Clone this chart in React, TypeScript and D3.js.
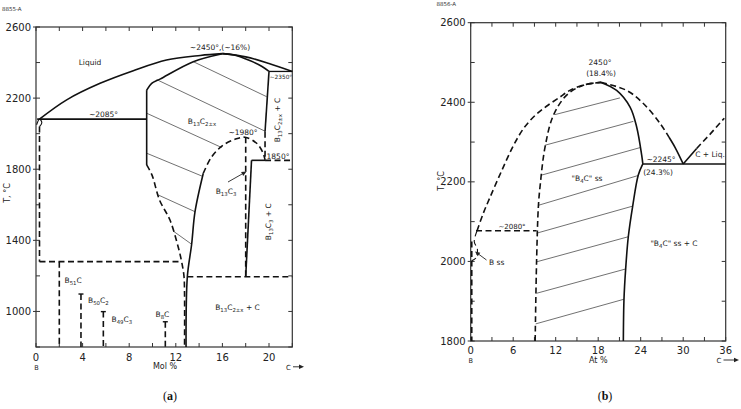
import React from "react";
import * as d3 from "d3";

type P = [number, number];

// ---------- Panel (a): B–C, Mol % ----------
const aXTicks = [0, 2, 4, 6, 8, 10, 12, 14, 16, 18, 20, 22];
const aXLabels = [0, 4, 8, 12, 16, 20];
const aYTicks = [800, 1000, 1200, 1400, 1600, 1800, 2000, 2200, 2400, 2600];
const aYLabels = [1000, 1400, 1800, 2200, 2600];

const aLiquidusLeft: P[] = [[0.3, 2082], [2.6, 2189], [5.5, 2283], [8.35, 2354], [11.2, 2414], [14.1, 2440], [16, 2450]];
const aLiquidusRight: P[] = [[16, 2450], [18, 2432], [20, 2395], [22, 2350]];
const aSolidusTop: P[] = [[9.5, 2245], [9.93, 2283], [10.64, 2307], [13.5, 2405], [16, 2450]];
const aSolidusRight: P[] = [[16, 2450], [17, 2443], [18.4, 2410], [19.4, 2378], [20, 2350]];
const aRightBoundarySolid: P[] = [[20, 2350], [19.66, 2011]];
const aRightBoundaryDashed: P[] = [[19.66, 2011], [19.66, 1850]];
const aLine2350: P[] = [[20, 2350], [22, 2350]];
const aLeftBoundarySolid: P[] = [[9.5, 2245], [9.5, 1824]];
const aLeftBoundaryDashed: P[] = [[9.5, 1824], [9.96, 1767], [10.6, 1627], [11.5, 1514], [12.2, 1364], [12.5, 1280], [12.7, 1200], [12.75, 1100], [12.75, 800]];
const aLine2085: P[] = [[0.1, 2082], [9.5, 2082]];
const aLowerSolid: P[] = [[14.36, 1777], [13.65, 1561], [13.36, 1378], [12.99, 1195], [12.88, 800]];
const aDome: P[] = [[14.36, 1777], [15.08, 1870], [16.08, 1936], [17.08, 1968], [17.94, 1980], [18.94, 1946], [19.5, 1890], [19.66, 1852]];
const aB13C3Dashed: P[] = [[18.0, 1980], [18.0, 1195]];
const aB13C3Solid: P[] = [[18.5, 1850], [18.0, 1195]];
const a1850Solid: P[] = [[18.5, 1850], [19.66, 1850]];
const a1850Dashed: P[] = [[19.66, 1850], [22, 1850]];
const a1200Dashed: P[] = [[12.99, 1195], [22, 1195]];
const a1280Dashed: P[] = [[0.3, 1280], [12.5, 1280]];
const aBLoop: P[] = [[0.05, 2050], [0.3, 2082], [0.5, 2062], [0.3, 2040]];
const aBDashed: P[] = [[0.3, 2040], [0.3, 1280]];
const aCompoundX = [2.0, 3.86, 5.78, 11.1];
const aCompoundTop = [1280, 1098, 999, 942];
const aCompoundCap = [false, true, true, true];
const aTies: P[][] = [
  [[13.5, 2405], [19.8, 2208]],
  [[10.36, 2304], [19.66, 2014]],
  [[9.5, 2115], [15.94, 1922]],
  [[9.5, 1890], [14.3, 1760]],
  [[10.5, 1655], [13.65, 1561]],
  [[11.78, 1452], [13.36, 1378]],
];

// ---------- Panel (b): B–C, At % ----------
const bXTicks = [0, 3, 6, 9, 12, 15, 18, 21, 24, 27, 30, 33, 36];
const bXLabels = [0, 6, 12, 18, 24, 30, 36];
const bYTicks = [1800, 1900, 2000, 2100, 2200, 2300, 2400, 2500, 2600];
const bYLabels = [1800, 2000, 2200, 2400, 2600];

const bLiquidusLeft: P[] = [[0.9, 2077], [1.8, 2122], [2.7, 2160], [4.3, 2225], [6, 2290], [7.5, 2335], [9.1, 2367], [10.7, 2390], [12.6, 2413], [14, 2430], [16.3, 2445], [18.4, 2450]];
const bSolidusLeft: P[] = [[9.1, 1800], [9.3, 2000], [9.55, 2137], [9.8, 2190], [10.5, 2288], [11.67, 2367], [13.55, 2418], [15.9, 2443], [18.4, 2450]];
const bSolidusRightUpper: P[] = [[18.4, 2450], [20.6, 2430], [22.5, 2388], [23.43, 2338], [24.14, 2267], [24.3, 2245]];
const bSolidusRightLower: P[] = [[24.3, 2245], [23.66, 2217], [22.87, 2139], [22.25, 2062], [21.88, 1982], [21.64, 1905], [21.55, 1800]];
const bLiquidusRightDashed: P[] = [[18.4, 2450], [22.0, 2430], [24.37, 2397], [26.73, 2347], [28.0, 2312]];
const bLiquidusRightSolid: P[] = [[28.0, 2312], [28.9, 2285], [30, 2245]];
const bCLiquidusSolid: P[] = [[30, 2245], [31.9, 2284]];
const bCLiquidusDashed: P[] = [[31.9, 2284], [33.8, 2320], [35.8, 2360]];
const b2245: P[] = [[24.3, 2245], [36, 2245]];
const b2080: P[] = [[0.75, 2077], [9.3, 2077]];
const bBDashed: P[] = [[0.15, 2050], [0.15, 1800]];
const bBss: P[] = [[0.9, 2077], [0.5, 2050], [0.95, 2030], [0.7, 2008], [0.2, 2002]];
const bTies: P[][] = [
  [[11.9, 2369], [21.07, 2411]],
  [[10.48, 2292], [22.96, 2352]],
  [[10.02, 2217], [23.9, 2286]],
  [[9.55, 2141], [23.66, 2216]],
  [[9.31, 2071], [22.87, 2139]],
  [[9.31, 1999], [22.24, 2062]],
  [[9.31, 1920], [21.87, 1981]],
  [[9.17, 1843], [21.64, 1905]],
];

const FONT = "DejaVu Sans, Verdana, sans-serif";
const INK = "#111";

const xA = d3.scaleLinear().domain([0, 22]).range([36, 292.3]);
const yA = d3.scaleLinear().domain([800, 2600]).range([347, 27]);
const xB = d3.scaleLinear().domain([0, 36]).range([470.7, 725.7]);
const yB = d3.scaleLinear().domain([1800, 2600]).range([341, 22.7]);

function mk(xs: any, ys: any, smooth: boolean) {
  const l = d3.line<P>().x((p) => xs(p[0])).y((p) => ys(p[1]));
  if (smooth) l.curve(d3.curveCatmullRom.alpha(0.5));
  return l;
}

function Curve({ pts, xs, ys, dashed = false, smooth = true, w = 1.6, color = INK }: any) {
  return (
    <path
      d={mk(xs, ys, smooth)(pts) || ""}
      fill="none"
      stroke={color}
      strokeWidth={w}
      strokeDasharray={dashed ? "6,3.5" : undefined}
      strokeLinejoin="round"
    />
  );
}

function parse(s: string) {
  const out: { t: string; sub: boolean }[] = [];
  const re = /_\{([^}]*)\}/g;
  let last = 0;
  let m: RegExpExecArray | null;
  while ((m = re.exec(s))) {
    if (m.index > last) out.push({ t: s.slice(last, m.index), sub: false });
    out.push({ t: m[1], sub: true });
    last = m.index + m[0].length;
  }
  if (last < s.length) out.push({ t: s.slice(last), sub: false });
  return out;
}

function Chem({ x, y, s, size = 7.5, anchor = "start", rotate = 0 }: any) {
  const parts = parse(s);
  let prevSub = false;
  return (
    <text
      x={x}
      y={y}
      fontSize={size}
      fontFamily={FONT}
      fill="#222"
      textAnchor={anchor}
      transform={rotate ? `rotate(${rotate},${x},${y})` : undefined}
    >
      {parts.map((p, i) => {
        const dy = p.sub && !prevSub ? size * 0.3 : !p.sub && prevSub ? -size * 0.3 : 0;
        prevSub = p.sub;
        return (
          <tspan key={i} dy={dy} fontSize={p.sub ? size * 0.72 : size}>
            {p.t}
          </tspan>
        );
      })}
    </text>
  );
}

function Axes({ xs, ys, xTicks, xLabels, yTicks, yLabels, labelY }: any) {
  const [x0, x1] = xs.range();
  const [y0, y1] = ys.range();
  return (
    <g>
      <rect x={x0} y={y1} width={x1 - x0} height={y0 - y1} fill="none" stroke="#333" strokeWidth={1.2} />
      {xTicks.map((v: number) => (
        <g key={"x" + v} stroke="#333" strokeWidth={1}>
          <line x1={xs(v)} x2={xs(v)} y1={y0} y2={y0 - 4} />
          <line x1={xs(v)} x2={xs(v)} y1={y1} y2={y1 + 4} />
        </g>
      ))}
      {yTicks.map((v: number) => (
        <g key={"y" + v} stroke="#333" strokeWidth={1}>
          <line x1={x0 - (yLabels.includes(v) ? 3 : 0)} x2={x0 + 4} y1={ys(v)} y2={ys(v)} />
          <line x1={x1} x2={x1 - 4} y1={ys(v)} y2={ys(v)} />
        </g>
      ))}
      {xLabels.map((v: number) => (
        <text key={"xl" + v} x={xs(v)} y={labelY} fontSize={10} fontFamily={FONT} textAnchor="middle" fill="#222">
          {v}
        </text>
      ))}
      {yLabels.map((v: number) => (
        <text key={"yl" + v} x={x0 - 5} y={ys(v) + 3.6} fontSize={10} fontFamily={FONT} textAnchor="end" fill="#222">
          {v}
        </text>
      ))}
    </g>
  );
}

function Arrow({ x1, y1, x2, y2 }: any) {
  const ang = Math.atan2(y2 - y1, x2 - x1);
  const L = 5, W = 2.2;
  const bx = x2 - L * Math.cos(ang), by = y2 - L * Math.sin(ang);
  const px = -Math.sin(ang) * W, py = Math.cos(ang) * W;
  return (
    <g>
      <line x1={x1} y1={y1} x2={bx} y2={by} stroke="#222" strokeWidth={0.9} />
      <polygon points={`${x2},${y2} ${bx + px},${by + py} ${bx - px},${by - py}`} fill="#222" />
    </g>
  );
}

function PanelA() {
  const C = (pts: P[], dashed = false, smooth = true, w = 1.6) => (
    <Curve pts={pts} xs={xA} ys={yA} dashed={dashed} smooth={smooth} w={w} />
  );
  return (
    <g>
      <text x={2} y={11} fontSize={5.5} fontFamily={FONT} fill="#333">8855-A</text>
      <Axes xs={xA} ys={yA} xTicks={aXTicks} xLabels={aXLabels} yTicks={aYTicks} yLabels={aYLabels} labelY={360.5} />
      {aTies.map((t, i) => (
        <Curve key={i} pts={t} xs={xA} ys={yA} smooth={false} w={0.7} color="#333" />
      ))}
      {C(aLiquidusLeft)}
      {C(aLiquidusRight)}
      {C(aSolidusTop)}
      {C(aSolidusRight)}
      {C(aRightBoundarySolid, false, false)}
      {C(aRightBoundaryDashed, true, false)}
      {C(aLine2350, false, false, 1.3)}
      {C(aLeftBoundarySolid, false, false)}
      {C(aLeftBoundaryDashed, true)}
      {C(aLine2085, false, false)}
      {C(aLowerSolid)}
      {C(aDome, true)}
      {C(aB13C3Dashed, true, false)}
      {C(aB13C3Solid, false, false)}
      {C(a1850Solid, false, false)}
      {C(a1850Dashed, true, false)}
      {C(a1200Dashed, true, false)}
      {C(a1280Dashed, true, false)}
      {C(aBLoop, false, true, 1.1)}
      {C(aBDashed, true, false)}
      {aCompoundX.map((cx, i) => (
        <g key={"c" + i}>
          <line x1={xA(cx)} x2={xA(cx)} y1={yA(aCompoundTop[i])} y2={yA(800)} stroke={INK} strokeWidth={1.6} strokeDasharray="6,3.5" />
          {aCompoundCap[i] && (
            <line x1={xA(cx) - 2.5} x2={xA(cx) + 2.5} y1={yA(aCompoundTop[i])} y2={yA(aCompoundTop[i])} stroke={INK} strokeWidth={1.4} />
          )}
        </g>
      ))}
      <text x={90} y={65} fontSize={7.5} fontFamily={FONT} textAnchor="middle" fill="#222">Liquid</text>
      <text x={220} y={50} fontSize={7.5} fontFamily={FONT} textAnchor="middle" fill="#222">~2450°,(~16%)</text>
      <text x={281} y={79} fontSize={5.8} fontFamily={FONT} textAnchor="middle" fill="#222">~2350°</text>
      <text x={103.5} y={117} fontSize={7.5} fontFamily={FONT} textAnchor="middle" fill="#222">~2085°</text>
      <Chem x={202} y={124} s="B_{13}C_{2±x}" anchor="middle" />
      <text x={243} y={135} fontSize={7.5} fontFamily={FONT} textAnchor="middle" fill="#222">~1980°</text>
      <text x={278} y={158.5} fontSize={7.5} fontFamily={FONT} textAnchor="middle" fill="#222">1850°</text>
      <Chem x={279.5} y={120} s="B_{13}C_{2±x} + C" anchor="middle" rotate={-90} />
      <Chem x={226} y={194} s="B_{13}C_{3}" anchor="middle" />
      <Arrow x1={228} y1={182} x2={246.5} y2={171.5} />
      <Chem x={271} y={221.7} s="B_{13}C_{3} + C" anchor="middle" rotate={-90} />
      <Chem x={64.5} y={283} s="B_{51}C" />
      <Chem x={88} y={302.5} s="B_{50}C_{2}" />
      <Chem x={111.5} y={321.5} s="B_{49}C_{3}" />
      <Chem x={155.5} y={316.5} s="B_{8}C" />
      <Chem x={237.5} y={310} s="B_{13}C_{2±x} + C" anchor="middle" />
      <text x={9.5} y={193} fontSize={8} fontFamily={FONT} textAnchor="middle" fill="#222" transform="rotate(-90,9.5,193)">T, °C</text>
      <text x={36.5} y={369.5} fontSize={6.5} fontFamily={FONT} textAnchor="middle" fill="#222">B</text>
      <text x={165} y={369} fontSize={8} fontFamily={FONT} textAnchor="middle" fill="#222">Mol %</text>
      <text x={286} y={369.5} fontSize={7} fontFamily={FONT} fill="#222">C</text>
      <Arrow x1={293} y1={366.8} x2={304} y2={366.8} />
    </g>
  );
}

function PanelB() {
  const C = (pts: P[], dashed = false, smooth = true, w = 1.6) => (
    <Curve pts={pts} xs={xB} ys={yB} dashed={dashed} smooth={smooth} w={w} />
  );
  return (
    <g>
      <text x={436.5} y={5.5} fontSize={5.5} fontFamily={FONT} fill="#333">8856-A</text>
      <Axes xs={xB} ys={yB} xTicks={bXTicks} xLabels={bXLabels} yTicks={bYTicks} yLabels={bYLabels} labelY={353.5} />
      {bTies.map((t, i) => (
        <Curve key={i} pts={t} xs={xB} ys={yB} smooth={false} w={0.7} color="#333" />
      ))}
      {C(bLiquidusLeft, true)}
      {C(bSolidusLeft, true)}
      {C(bSolidusRightUpper)}
      {C(bSolidusRightLower)}
      {C(bLiquidusRightDashed, true)}
      {C(bLiquidusRightSolid)}
      {C(bCLiquidusSolid, false, false)}
      {C(bCLiquidusDashed, true, false)}
      {C(b2245, false, false)}
      {C(b2080, true, false)}
      {C(bBDashed, true, false)}
      {C(bBss, true, true, 1.1)}
      <text x={600} y={65} fontSize={7.5} fontFamily={FONT} textAnchor="middle" fill="#222">2450°</text>
      <text x={601} y={75.5} fontSize={7.5} fontFamily={FONT} textAnchor="middle" fill="#222">(18.4%)</text>
      <text x={661} y={162} fontSize={7.5} fontFamily={FONT} textAnchor="middle" fill="#222">~2245°</text>
      <text x={658} y={174.5} fontSize={7.5} fontFamily={FONT} textAnchor="middle" fill="#222">(24.3%)</text>
      <text x={710} y={157} fontSize={7.5} fontFamily={FONT} textAnchor="middle" fill="#222">C + Liq.</text>
      <Chem x={587} y={181} s={"\"B_{4}C\" ss"} anchor="middle" />
      <Chem x={674} y={246} s={"\"B_{4}C\" ss + C"} anchor="middle" />
      <text x={512} y={228.5} fontSize={7} fontFamily={FONT} textAnchor="middle" fill="#222">~2080°</text>
      <text x={489} y={265} fontSize={7.5} fontFamily={FONT} fill="#222">B ss</text>
      <Arrow x1={486.5} y1={260} x2={475} y2={251.5} />
      <text x={443.5} y={181} fontSize={8} fontFamily={FONT} textAnchor="middle" fill="#222" transform="rotate(-90,443.5,181)">T, °C</text>
      <text x={470.7} y={363} fontSize={6.5} fontFamily={FONT} textAnchor="middle" fill="#222">B</text>
      <text x={598.3} y={362.5} fontSize={8} fontFamily={FONT} textAnchor="middle" fill="#222">At %</text>
      <text x={716.5} y={362.5} fontSize={7} fontFamily={FONT} fill="#222">C</text>
      <Arrow x1={723.5} y1={360} x2={739} y2={360} />
    </g>
  );
}

export default function App() {
  return (
    <svg width={741} height={409} viewBox="0 0 741 409" style={{ position: "absolute", left: 0, top: 0, background: "#fff" }}>
      <rect x={0} y={0} width={741} height={409} fill="#fff" />
      <PanelA />
      <PanelB />
      <text x={170} y={400} fontSize={12} fontFamily="Liberation Serif, serif" textAnchor="middle" fill="#111">
        (<tspan fontWeight="bold">a</tspan>)
      </text>
      <text x={605} y={400} fontSize={12} fontFamily="Liberation Serif, serif" textAnchor="middle" fill="#111">
        (<tspan fontWeight="bold">b</tspan>)
      </text>
    </svg>
  );
}
